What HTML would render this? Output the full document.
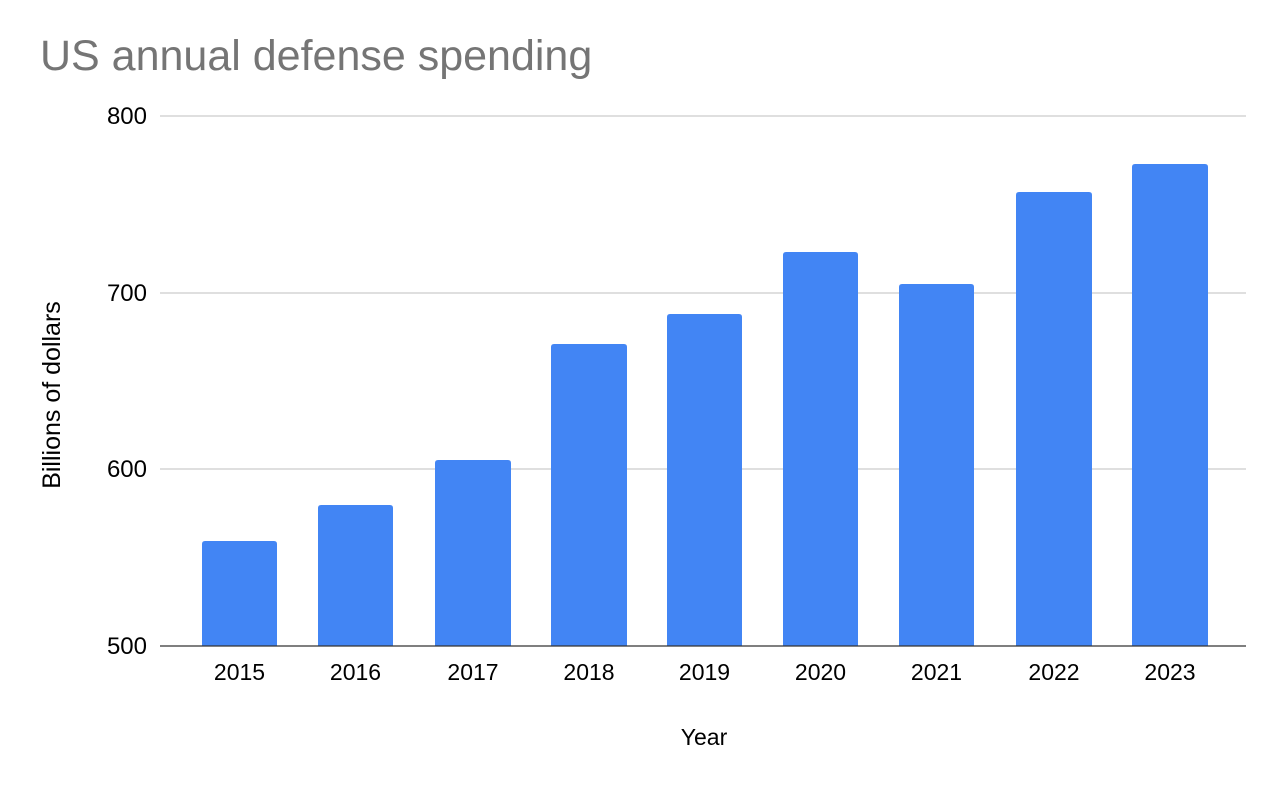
<!DOCTYPE html>
<html><head><style>
html,body{margin:0;padding:0;background:#fff;}
svg{display:block;font-family:"Liberation Sans",Arial,sans-serif;}
</style></head><body>
<svg width="1280" height="787" viewBox="0 0 1280 787" xmlns="http://www.w3.org/2000/svg">
<rect width="1280" height="787" fill="#fff"/>
<text x="40" y="70" font-size="43" fill="#757575">US annual defense spending</text>
<g stroke="#cccccc" stroke-width="1.3">
<line x1="160" y1="116" x2="1246" y2="116"/>
<line x1="160" y1="293" x2="1246" y2="293"/>
<line x1="160" y1="469" x2="1246" y2="469"/>
</g>
<g font-size="24" fill="#000" text-anchor="end">
<text x="147" y="124">800</text>
<text x="147" y="301">700</text>
<text x="147" y="477">600</text>
<text x="147" y="654">500</text>
</g>
<g fill="#4285f4">
<path d="M202,646V544q0,-3 3,-3h69q3,0 3,3V646Z"/>
<path d="M318,646V508q0,-3 3,-3h69q3,0 3,3V646Z"/>
<path d="M435,646V463q0,-3 3,-3h70q3,0 3,3V646Z"/>
<path d="M551,646V347q0,-3 3,-3h70q3,0 3,3V646Z"/>
<path d="M667,646V317q0,-3 3,-3h69q3,0 3,3V646Z"/>
<path d="M783,646V255q0,-3 3,-3h69q3,0 3,3V646Z"/>
<path d="M899,646V287q0,-3 3,-3h69q3,0 3,3V646Z"/>
<path d="M1016,646V195q0,-3 3,-3h70q3,0 3,3V646Z"/>
<path d="M1132,646V167q0,-3 3,-3h70q3,0 3,3V646Z"/>
</g>
<line x1="160" y1="646" x2="1246" y2="646" stroke="#333" stroke-width="1.3"/>
<g font-size="23" fill="#000" text-anchor="middle">
<text x="239.5" y="680">2015</text>
<text x="355.5" y="680">2016</text>
<text x="473" y="680">2017</text>
<text x="589" y="680">2018</text>
<text x="704.5" y="680">2019</text>
<text x="820.5" y="680">2020</text>
<text x="936.5" y="680">2021</text>
<text x="1054" y="680">2022</text>
<text x="1170" y="680">2023</text>
<text x="704" y="745">Year</text>
<text transform="translate(60,395) rotate(-90)" font-size="25">Billions of dollars</text>
</g>
</svg>
</body></html>
